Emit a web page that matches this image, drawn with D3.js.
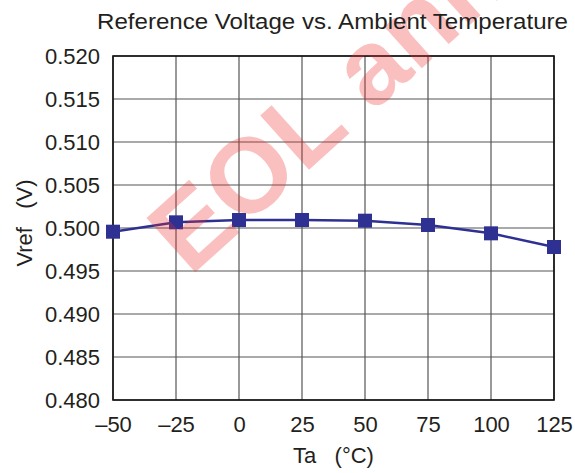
<!DOCTYPE html>
<html>
<head>
<meta charset="utf-8">
<script src="https://cdn.jsdelivr.net/npm/d3@7"></script>
<style>
  body { margin: 0; background: #fff; }
  svg { display: block; font-family: "Liberation Sans", Arial, sans-serif; }
</style>
</head>
<body>
<div id="chart"></div>
<script>
// data
const temps = [-50, -25, 0, 25, 50, 75, 100, 125];
const vref = [0.49957, 0.50066, 0.50093, 0.50093, 0.50085, 0.50035, 0.49938, 0.49779];
const xTicks = [-50, -25, 0, 25, 50, 75, 100, 125];
const yTicks = [0.480, 0.485, 0.490, 0.495, 0.500, 0.505, 0.510, 0.515, 0.520];

const W = 575, H = 473;
const margin = { top: 56, right: 21, bottom: 73, left: 113 };
const width = W - margin.left - margin.right;
const height = H - margin.top - margin.bottom;
const ink = "#231f20";

const svg = d3.select("#chart").append("svg")
  .attr("width", W)
  .attr("height", H);

const x = d3.scaleLinear().domain([-50, 125]).range([0, width]);
const y = d3.scaleLinear().domain([0.480, 0.520]).range([height, 0]);

const g = svg.append("g")
  .attr("transform", "translate(" + margin.left + "," + margin.top + ")");

// grid
g.selectAll(".vgrid").data(xTicks).enter().append("line")
  .attr("x1", d => x(d)).attr("x2", d => x(d))
  .attr("y1", 0).attr("y2", height)
  .attr("stroke", "#555").attr("stroke-width", 1.2);
g.selectAll(".hgrid").data(yTicks).enter().append("line")
  .attr("y1", d => y(d)).attr("y2", d => y(d))
  .attr("x1", 0).attr("x2", width)
  .attr("stroke", "#555").attr("stroke-width", 1.2);
g.append("rect")
  .attr("width", width).attr("height", height)
  .attr("fill", "none").attr("stroke", "#111").attr("stroke-width", 1.6);

// axes (labels only, lines drawn by the grid)
const xAxis = g.append("g")
  .attr("transform", "translate(0," + height + ")")
  .call(d3.axisBottom(x).tickValues(xTicks).tickSize(0).tickPadding(16)
    .tickFormat(d => d < 0 ? "\u2013" + Math.abs(d) : d));
const yAxis = g.append("g")
  .call(d3.axisLeft(y).tickValues(yTicks).tickSize(0).tickPadding(13)
    .tickFormat(d3.format(".3f")));
[xAxis, yAxis].forEach(a => {
  a.select(".domain").remove();
  a.selectAll("text").attr("font-family", "Liberation Sans, Arial, sans-serif")
    .attr("font-size", 22).attr("fill", ink);
});

// watermark
svg.append("text")
  .attr("transform", "translate(190,277) rotate(-42)")
  .attr("font-size", 106)
  .attr("font-weight", "bold")
  .attr("fill", "#f03030")
  .attr("fill-opacity", 0.3)
  .text("EOL announced");

// series
const line = d3.line().x((d, i) => x(temps[i])).y(d => y(d));
g.append("path")
  .datum(vref)
  .attr("d", line)
  .attr("fill", "none")
  .attr("stroke", "#2e3192")
  .attr("stroke-width", 2.5);
g.selectAll(".pt").data(vref).enter().append("rect")
  .attr("x", (d, i) => x(temps[i]) - 7)
  .attr("y", d => y(d) - 7)
  .attr("width", 14).attr("height", 14)
  .attr("fill", "#2e3192");

// titles
svg.append("text")
  .attr("x", 97).attr("y", 29)
  .attr("font-size", 22)
  .attr("textLength", 471)
  .attr("lengthAdjust", "spacingAndGlyphs")
  .attr("fill", ink)
  .text("Reference Voltage vs. Ambient Temperature");
svg.append("text")
  .attr("x", margin.left + width / 2).attr("y", 463)
  .attr("text-anchor", "middle")
  .attr("font-size", 22)
  .attr("fill", ink)
  .attr("xml:space", "preserve")
  .text("Ta   (\u00b0C)");
svg.append("text")
  .attr("transform", "translate(32,223) rotate(-90)")
  .attr("text-anchor", "middle")
  .attr("font-size", 22)
  .attr("fill", ink)
  .attr("xml:space", "preserve")
  .text("Vref   (V)");
</script>
</body>
</html>
